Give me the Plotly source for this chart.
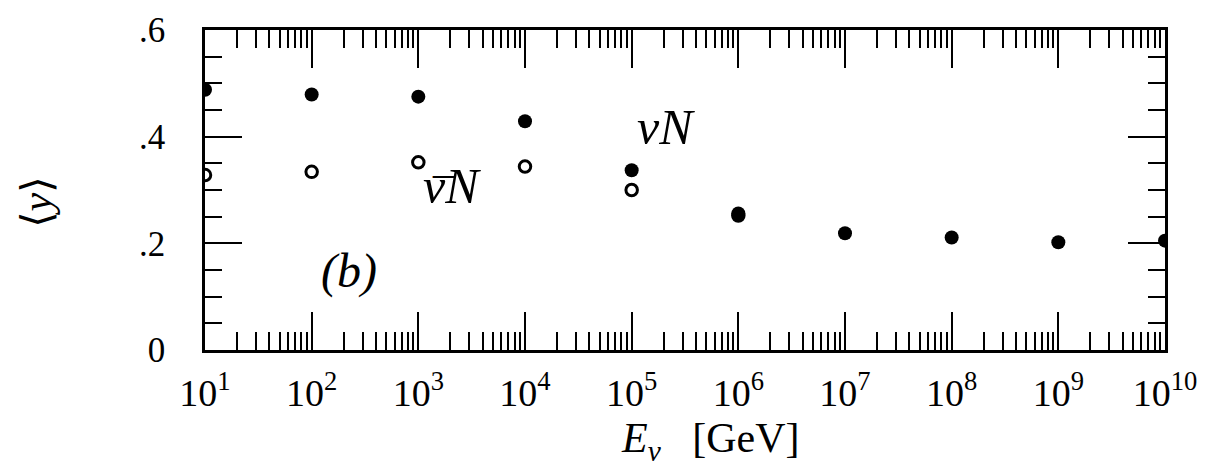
import plotly.graph_objects as go

# Data
energy = [1e1, 1e2, 1e3, 1e4, 1e5, 1e6, 1e7, 1e8, 1e9, 1e10]
y_nu = [0.488, 0.479, 0.475, 0.429, 0.337, 0.256, 0.219, 0.211, 0.202, 0.205]
energy_bar = [1e1, 1e2, 1e3, 1e4, 1e5, 1e6]
y_nubar = [0.328, 0.334, 0.352, 0.344, 0.300, 0.252]

decades = list(range(1, 11))
x_tickvals = [10 ** k for k in decades]
x_ticktext = ["10<sup>%d</sup>" % k for k in decades]
x_minor_vals = [m * 10 ** k for k in decades[:-1] for m in range(2, 10)]
y_tickvals = [0, 0.2, 0.4, 0.6]
y_ticktext = ["0", ".2", ".4", ".6"]

FONT = "Liberation Serif, Times New Roman, DejaVu Serif, serif"

fig = go.Figure()
fig.add_trace(go.Scatter(
    x=energy_bar, y=y_nubar, mode="markers", name="anti-nu N",
    marker=dict(symbol="circle-open", size=11.5, color="black", line=dict(width=3, color="black")),
    cliponaxis=True,
))
fig.add_trace(go.Scatter(
    x=energy, y=y_nu, mode="markers", name="nu N",
    marker=dict(symbol="circle", size=14, color="black"),
    cliponaxis=True,
))

axis_common = dict(
    showline=True, linecolor="black", linewidth=2.5, mirror="ticks",
    ticks="inside", tickcolor="black", tickwidth=2, showgrid=False, zeroline=False,
    automargin=False, ticklabeloverflow="allow",
)

fig.update_xaxes(
    type="log", range=[1, 10], tickmode="array", tickvals=x_tickvals, ticktext=x_ticktext,
    ticklen=38,
    minor=dict(tickmode="array", tickvals=x_minor_vals, ticks="inside", ticklen=18,
               tickcolor="black", tickwidth=2, showgrid=False),
    tickfont=dict(family=FONT, size=38, color="black"),
    ticklabelstandoff=8,
    **axis_common,
)
fig.update_yaxes(
    range=[0, 0.6], tickmode="array", tickvals=y_tickvals, ticktext=y_ticktext,
    ticklen=37,
    minor=dict(ticks="inside", ticklen=17, dtick=0.05, tickcolor="black", tickwidth=2, showgrid=False),
    tickfont=dict(family=FONT, size=35, color="black"),
    ticklabelstandoff=30,
    **axis_common,
)

annotations = [
    dict(x=5.32, y=0.418, xref="x", yref="y", text="<i>νN</i>", showarrow=False,
         font=dict(family=FONT, size=50, color="black")),
    dict(x=3.315, y=0.308, xref="x", yref="y", text="<i>νN</i>", showarrow=False,
         font=dict(family=FONT, size=50, color="black")),
    dict(x=3.24, y=0.293, xref="x", yref="y", text="¯", showarrow=False,
         font=dict(family=FONT, size=42, color="black")),
    dict(x=2.346, y=0.148, xref="x", yref="y", text="<i>(b)</i>", showarrow=False,
         font=dict(family=FONT, size=48, color="black")),
    dict(x=0.526, y=-0.285, xref="paper", yref="paper", xanchor="center", yanchor="middle",
         text="<i>E</i><sub><i>ν</i></sub>&nbsp;&nbsp;&nbsp;[GeV]", showarrow=False,
         font=dict(family=FONT, size=42, color="black")),
    dict(x=-0.175, y=0.46, xref="paper", yref="paper", xanchor="center", yanchor="middle",
         text="⟨<i>y</i>⟩", textangle=-90, showarrow=False,
         font=dict(family=FONT, size=42, color="black")),
]

# the page body adds an 8px offset; margins compensate so the plot frame
# sits at the reference position (x 205-1165, y 30-350)
fig.update_layout(
    width=1211, height=475,
    margin=dict(l=197, r=54, t=22, b=133),
    paper_bgcolor="white", plot_bgcolor="white",
    showlegend=False,
    annotations=annotations,
)

fig.write_html("out.html")
